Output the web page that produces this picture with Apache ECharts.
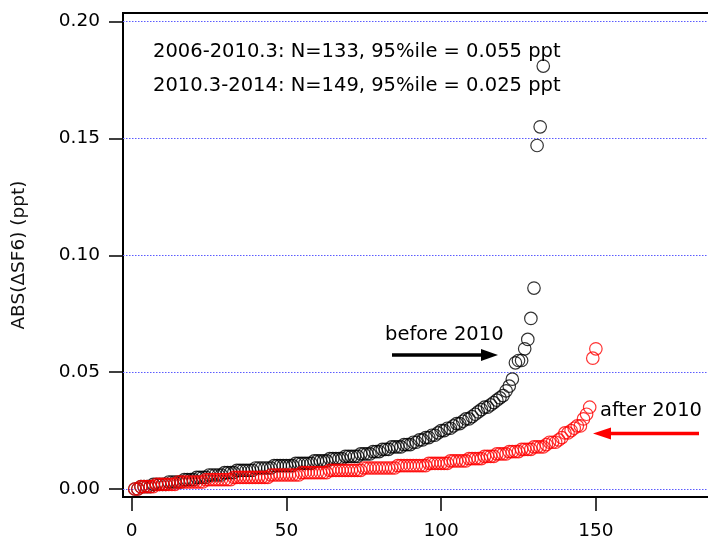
<!DOCTYPE html>
<html>
<head>
<meta charset="utf-8">
<script src="https://cdn.jsdelivr.net/npm/echarts@6/dist/echarts.min.js"></script>
<style>html,body{margin:0;padding:0;background:#fff;}#c{width:708px;height:541px;}</style>
</head>
<body>
<div id="c"></div>
<script>
// Sorted ABS(ΔSF6) values, 2006-2010.3 (black), x = rank 1..133
const before2010 = [
  0.000, 0.000, 0.001, 0.001,
  0.001, 0.001, 0.002, 0.002, 0.002,
  0.002, 0.002, 0.003, 0.003, 0.003,
  0.003, 0.003, 0.004, 0.004, 0.004,
  0.004, 0.005, 0.005, 0.005, 0.005,
  0.006, 0.006, 0.006, 0.006, 0.006,
  0.007, 0.007, 0.007, 0.007, 0.008,
  0.008, 0.008, 0.008, 0.008, 0.008,
  0.009, 0.009, 0.009, 0.009, 0.009,
  0.009, 0.010, 0.010, 0.010, 0.010,
  0.010, 0.010, 0.010, 0.011, 0.011,
  0.011, 0.011, 0.011, 0.011, 0.012,
  0.012, 0.012, 0.012, 0.012, 0.013,
  0.013, 0.013, 0.013, 0.013, 0.014,
  0.014, 0.014, 0.014, 0.014, 0.015,
  0.015, 0.015, 0.015, 0.016, 0.016,
  0.016, 0.017, 0.017, 0.017, 0.018,
  0.018, 0.018, 0.018, 0.019, 0.019,
  0.019, 0.020, 0.020, 0.021, 0.021,
  0.022, 0.022, 0.023, 0.023, 0.024,
  0.025, 0.025, 0.026, 0.026, 0.027,
  0.028, 0.028, 0.029, 0.030, 0.030,
  0.031, 0.032, 0.033, 0.034, 0.035,
  0.035, 0.036, 0.037, 0.038, 0.039,
  0.040, 0.042, 0.044, 0.047, 0.054,
  0.055, 0.055, 0.060, 0.064, 0.073,
  0.086, 0.147, 0.155, 0.181
];
// Sorted ABS(ΔSF6) values, 2010.3-2014 (red), x = rank 1..150
const after2010 = [
  0.000, 0.000, 0.001, 0.001, 0.001,
  0.001, 0.001, 0.002, 0.002, 0.002,
  0.002, 0.002, 0.002, 0.002, 0.003,
  0.003, 0.003, 0.003, 0.003, 0.003,
  0.003, 0.003, 0.003, 0.004, 0.004,
  0.004, 0.004, 0.004, 0.004, 0.004,
  0.004, 0.004, 0.005, 0.005, 0.005,
  0.005, 0.005, 0.005, 0.005, 0.005,
  0.005, 0.005, 0.005, 0.005, 0.006,
  0.006, 0.006, 0.006, 0.006, 0.006,
  0.006, 0.006, 0.006, 0.006, 0.007,
  0.007, 0.007, 0.007, 0.007, 0.007,
  0.007, 0.007, 0.007, 0.008, 0.008,
  0.008, 0.008, 0.008, 0.008, 0.008,
  0.008, 0.008, 0.008, 0.008, 0.009,
  0.009, 0.009, 0.009, 0.009, 0.009,
  0.009, 0.009, 0.009, 0.009, 0.009,
  0.010, 0.010, 0.010, 0.010, 0.010,
  0.010, 0.010, 0.010, 0.010, 0.010,
  0.011, 0.011, 0.011, 0.011, 0.011,
  0.011, 0.011, 0.012, 0.012, 0.012,
  0.012, 0.012, 0.012, 0.013, 0.013,
  0.013, 0.013, 0.013, 0.014, 0.014,
  0.014, 0.014, 0.015, 0.015, 0.015,
  0.015, 0.016, 0.016, 0.016, 0.016,
  0.017, 0.017, 0.017, 0.017, 0.018,
  0.018, 0.018, 0.018, 0.019, 0.020,
  0.020, 0.020, 0.021, 0.022, 0.024,
  0.024, 0.025, 0.026, 0.027, 0.027,
  0.030, 0.032, 0.035, 0.056, 0.060
];
const xTicks = [0, 50, 100, 150];
const yTicks = [0, 0.05, 0.10, 0.15, 0.20];
const yAxisTitle = 'ABS(\u0394SF6) (ppt)';
const statLines = [
  '2006-2010.3: N=133, 95%ile = 0.055 ppt',
  '2010.3-2014: N=149, 95%ile = 0.025 ppt'
];
const beforeLabel = 'before 2010';
const afterLabel = 'after 2010';

const FONT = 'DejaVu Sans';
const chart = echarts.init(document.getElementById('c'), null, {renderer: 'canvas'});

const toPairs = arr => arr.map((v, i) => [i + 1, v]);

chart.setOption({
  animation: false,
  backgroundColor: '#fff',
  grid: {
    left: 123, top: 13, right: -3, bottom: 44,
    containLabel: false, outerBoundsMode: 'none',
    show: true, borderColor: '#000', borderWidth: 2, backgroundColor: 'transparent'
  },
  xAxis: {
    type: 'value', min: -2.8, max: 187.2,
    axisLine: {show: true, onZero: false, lineStyle: {color: '#000', width: 2}},
    axisTick: {show: true, inside: false, length: 14, customValues: xTicks, lineStyle: {color: '#000', width: 1.5}},
    axisLabel: {show: true, customValues: xTicks, margin: 25, fontSize: 18.5, fontFamily: FONT, color: '#000'},
    splitLine: {show: false}
  },
  yAxis: {
    type: 'value', min: -0.00342, max: 0.2037,
    name: yAxisTitle, nameLocation: 'middle', nameGap: 94,
    nameTextStyle: {fontSize: 18.5, fontFamily: FONT, color: '#111'},
    axisLine: {show: true, onZero: false, lineStyle: {color: '#000', width: 2}},
    axisTick: {show: true, inside: false, length: 14, customValues: yTicks, lineStyle: {color: '#000', width: 1.5}},
    axisLabel: {show: true, customValues: yTicks, margin: 23, fontSize: 18.5, fontFamily: FONT, color: '#000',
      formatter: v => v.toFixed(2)},
    splitLine: {show: false}
  },
  series: [
    {
      type: 'scatter', name: 'before', data: toPairs(before2010),
      symbol: 'circle', symbolSize: 12.5,
      itemStyle: {color: 'rgba(0,0,0,0)', borderColor: '#000', borderWidth: 1.2},
      silent: true, z: 3,
      markLine: {
        silent: true, symbol: ['none', 'none'], label: {show: false},
        lineStyle: {color: '#5b5bff', type: [1.5, 1.5], width: 1},
        data: yTicks.map(v => ({yAxis: v})),
        z: 1
      }
    },
    {
      type: 'scatter', name: 'after', data: toPairs(after2010),
      symbol: 'circle', symbolSize: 12.5,
      itemStyle: {color: 'rgba(0,0,0,0)', borderColor: '#ff0000', borderWidth: 1.2},
      silent: true, z: 4
    }
  ],
  graphic: [
    {type: 'text', left: 153, top: 54 - 12, style: {text: statLines[0], font: '19.5px "DejaVu Sans"', fill: '#000'}},
    {type: 'text', left: 153, top: 88 - 12, style: {text: statLines[1], font: '19.5px "DejaVu Sans"', fill: '#000'}},
    {type: 'text', left: 385, top: 337 - 12, style: {text: beforeLabel, font: '19.5px "DejaVu Sans"', fill: '#000'}},
    {type: 'text', left: 600, top: 413 - 12, style: {text: afterLabel, font: '19.5px "DejaVu Sans"', fill: '#000'}},
    {type: 'line', shape: {x1: 392, y1: 355, x2: 484, y2: 355}, style: {stroke: '#000', lineWidth: 3.5}},
    {type: 'polygon', shape: {points: [[498, 355], [481, 349], [481, 361]]}, style: {fill: '#000'}},
    {type: 'line', shape: {x1: 608, y1: 433.5, x2: 699, y2: 433.5}, style: {stroke: '#ff0000', lineWidth: 3.5}},
    {type: 'polygon', shape: {points: [[593, 433.5], [611, 427.5], [611, 439.5]]}, style: {fill: '#ff0000'}}
  ]
});
</script>
</body>
</html>
